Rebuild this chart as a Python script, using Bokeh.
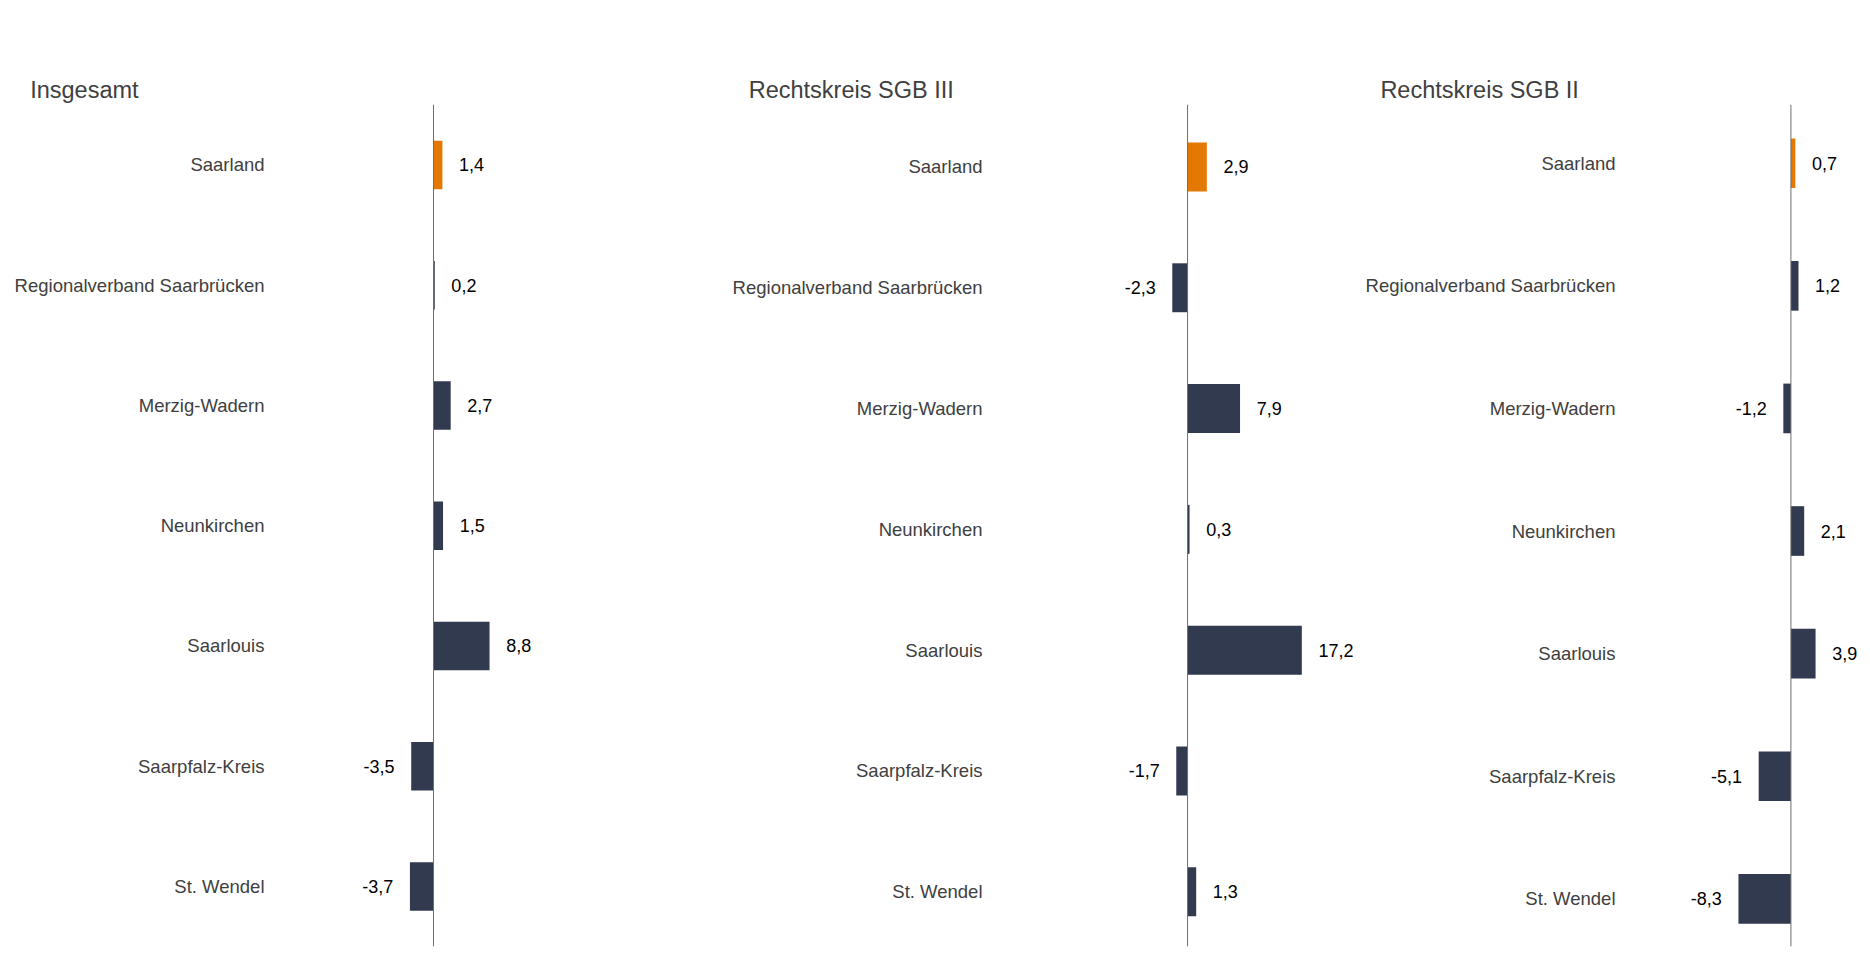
from bokeh.plotting import figure
from bokeh.models import Range1d, FixedTicker, Span, ColumnDataSource, Title
from bokeh.layouts import row
from bokeh.embed import file_html
from bokeh.resources import INLINE
from bokeh.core.properties import value

regions = ["Saarland", "Regionalverband Saarbrücken", "Merzig-Wadern", "Neunkirchen",
           "Saarlouis", "Saarpfalz-Kreis", "St. Wendel"]
titles = ["Insgesamt", "Rechtskreis SGB III", "Rechtskreis SGB II"]
insgesamt = [1.4, 0.2, 2.7, 1.5, 8.8, -3.5, -3.7]
sgb3 = [2.9, -2.3, 7.9, 0.3, 17.2, -1.7, 1.3]
sgb2 = [0.7, 1.2, -1.2, 2.1, 3.9, -5.1, -8.3]

ORANGE = "#E37803"
NAVY = "#323A4F"
FONT = "Liberation Sans"
GREY_TXT = "#404040"


def panel(title, vals, width, border_left, x_start, x_end, y_bottom, y_top,
          title_off, gap):
    p = figure(width=width, height=954, output_backend="svg", toolbar_location=None,
               x_axis_location=None, min_border=0,
               x_range=Range1d(x_start, x_end), y_range=Range1d(y_bottom, y_top))
    p.min_border_left = border_left
    p.min_border_top = 104
    p.min_border_right = 0
    p.min_border_bottom = 8
    p.outline_line_color = None
    p.xgrid.visible = False
    p.ygrid.visible = False

    p.add_layout(Title(text=title, align="left", offset=title_off, vertical_align="top",
                       standoff=0, text_font=FONT, text_font_size="23.5px",
                       text_font_style="normal", text_color=GREY_TXT), "above")
    # invisible spacer between title and plot area
    p.add_layout(Title(text=".", standoff=gap, text_font=FONT, text_font_size="10px",
                       text_alpha=0), "above")

    idx = list(range(len(regions)))
    src = ColumnDataSource(dict(
        y=idx,
        v=vals,
        color=[ORANGE] + [NAVY] * (len(vals) - 1),
        lab=[f"{v:.1f}".replace(".", ",") for v in vals],
        off=[16.6 if v >= 0 else -16.6 for v in vals],
        align=["left" if v >= 0 else "right" for v in vals],
    ))
    p.hbar(y="y", left=0, right="v", height=0.405, fill_color="color",
           line_color=None, source=src)
    p.add_layout(Span(location=0, dimension="height", line_color="#6e6e6e", line_width=1))
    p.text(x="v", y="y", text="lab", x_offset="off", text_align="align",
           text_baseline="middle", text_font=value(FONT), text_font_size="18px",
           text_color="#000000", source=src)

    ax = p.yaxis[0]
    ax.ticker = FixedTicker(ticks=idx)
    ax.major_label_overrides = {i: r for i, r in zip(idx, regions)}
    ax.axis_line_color = None
    ax.major_tick_line_color = None
    ax.minor_tick_line_color = None
    ax.major_tick_out = 0
    ax.major_tick_in = 0
    ax.major_label_standoff = 10
    ax.major_label_text_font = FONT
    ax.major_label_text_font_size = "18.5px"
    ax.major_label_text_color = GREY_TXT
    return p


p1 = panel(titles[0], insgesamt, 715, 274, -24.96, 44.27, 6.499, -0.503, -244.3, 52.6)
p2 = panel(titles[1], sgb3, 645, 277, -29.36, 26.03, 6.453, -0.517, -243.8, 50.2)
p3 = panel(titles[2], sgb2, 510, 265, -26.17, 12.59, 6.389, -0.479, -245.1, 55.0)

layout = row(p1, p2, p3)
open("out.html", "w").write(file_html(layout, INLINE))
